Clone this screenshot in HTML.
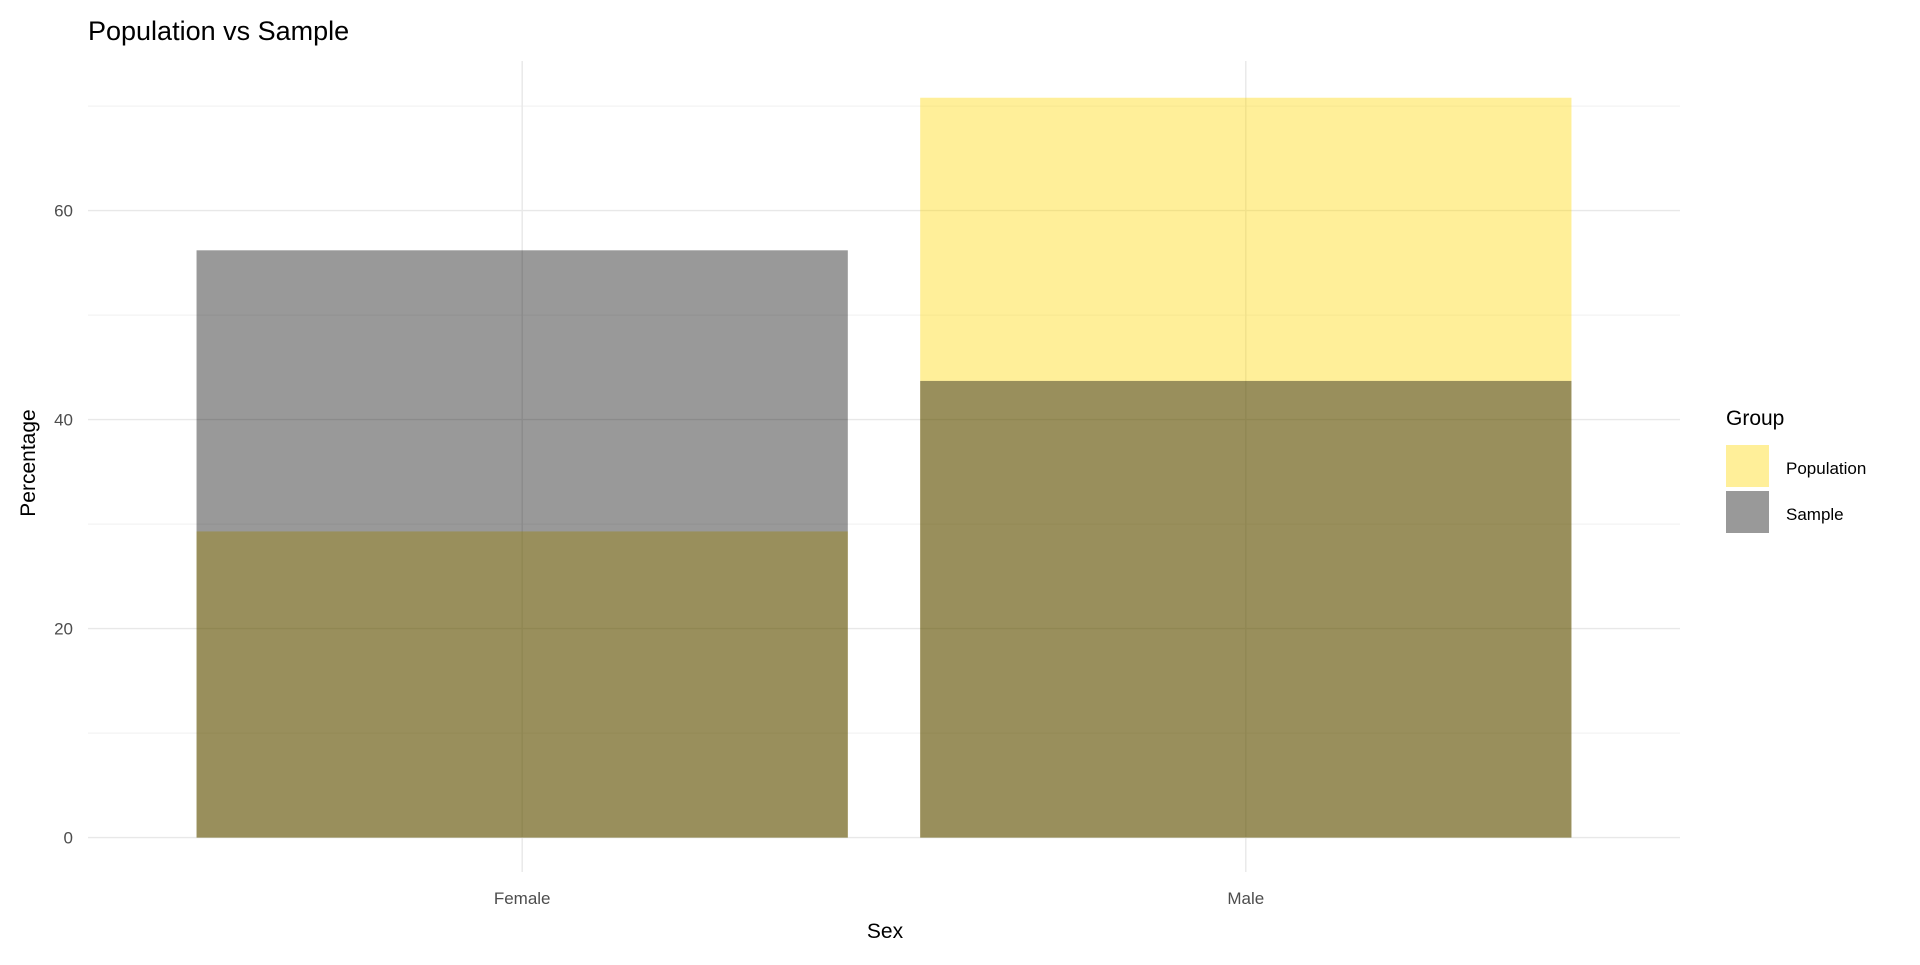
<!DOCTYPE html>
<html><head><meta charset="utf-8"><style>
html,body{margin:0;padding:0;background:#fff;}
svg text{font-family:"Liberation Sans",Arial,sans-serif;}
</style></head><body>
<svg id="chart" width="1920" height="960" xmlns="http://www.w3.org/2000/svg">
<text x="88" y="40" font-size="27" fill="#000">Population vs Sample</text>
<g id="grid"></g>
<g id="bars"></g>
<g id="ticks"></g>
<text x="885" y="938" font-size="21" text-anchor="middle" fill="#000">Sex</text>
<text transform="translate(35,463) rotate(-90)" font-size="21" text-anchor="middle" fill="#000">Percentage</text>
<g>
<text x="1726" y="425" font-size="21" fill="#000">Group</text>
<rect x="1726" y="445" width="43" height="42" fill="#ffd700" fill-opacity="0.4"/>
<text x="1786" y="474" font-size="17" fill="#000">Population</text>
<rect x="1726" y="491" width="43" height="42" fill="#000" fill-opacity="0.4"/>
<text x="1786" y="520" font-size="17" fill="#000">Sample</text>
</g>
</svg>
<script>
const categories = ["Female", "Male"];
const populationValues = [29.3, 70.8];
const sampleValues = [56.2, 43.7];
const yTicks = [0, 20, 40, 60];
const yMinor = [10, 30, 50, 70];

const NS = "http://www.w3.org/2000/svg";
const plotL = 88, plotR = 1680, plotT = 61, plotB = 872;
const y0px = 837.6, yPerUnit = (837.6 - 210.6) / 60;
const yScale = v => y0px - v * yPerUnit;
const unit = (plotR - plotL) / (categories.length - 1 + 1.2);
const xCenter = i => plotL + unit * (0.6 + i);
const barW = unit * 0.9;

function mk(tag, attrs, parent) {
  const e = document.createElementNS(NS, tag);
  for (const k in attrs) e.setAttribute(k, attrs[k]);
  parent.appendChild(e);
  return e;
}
const grid = document.getElementById('grid');
const bars = document.getElementById('bars');
const ticks = document.getElementById('ticks');

yMinor.forEach(v => {
  const l = mk('line', {x1: plotL, x2: plotR, y1: yScale(v), y2: yScale(v), stroke: '#f3f3f3', 'stroke-width': 1.2}, grid);
  
  
});
yTicks.forEach(v => {
  const l = mk('line', {x1: plotL, x2: plotR, y1: yScale(v), y2: yScale(v), stroke: '#e8e8e8', 'stroke-width': 1.4}, grid);
  
  
  const t = mk('text', {x: 73, y: yScale(v) + 6, 'font-size': 17, fill: '#4d4d4d', 'text-anchor': 'end'}, ticks);
  t.textContent = v;
  
  
});
categories.forEach((c, i) => {
  const l = mk('line', {x1: xCenter(i), x2: xCenter(i), y1: plotT, y2: plotB, stroke: '#e8e8e8', 'stroke-width': 1.4}, grid);
  
  
  const t = mk('text', {x: xCenter(i), y: 904, 'font-size': 17, fill: '#4d4d4d', 'text-anchor': 'middle'}, ticks);
  t.textContent = c;
  
  
});
categories.forEach((c, i) => {
  const p = mk('rect', {x: xCenter(i) - barW / 2, width: barW, y: yScale(populationValues[i]), height: yScale(0) - yScale(populationValues[i]), fill: '#ffd700', 'fill-opacity': 0.4}, bars);
  
  
});
categories.forEach((c, i) => {
  const s = mk('rect', {x: xCenter(i) - barW / 2, width: barW, y: yScale(sampleValues[i]), height: yScale(0) - yScale(sampleValues[i]), fill: '#000', 'fill-opacity': 0.4}, bars);
  
  
});
</script>
</body></html>
